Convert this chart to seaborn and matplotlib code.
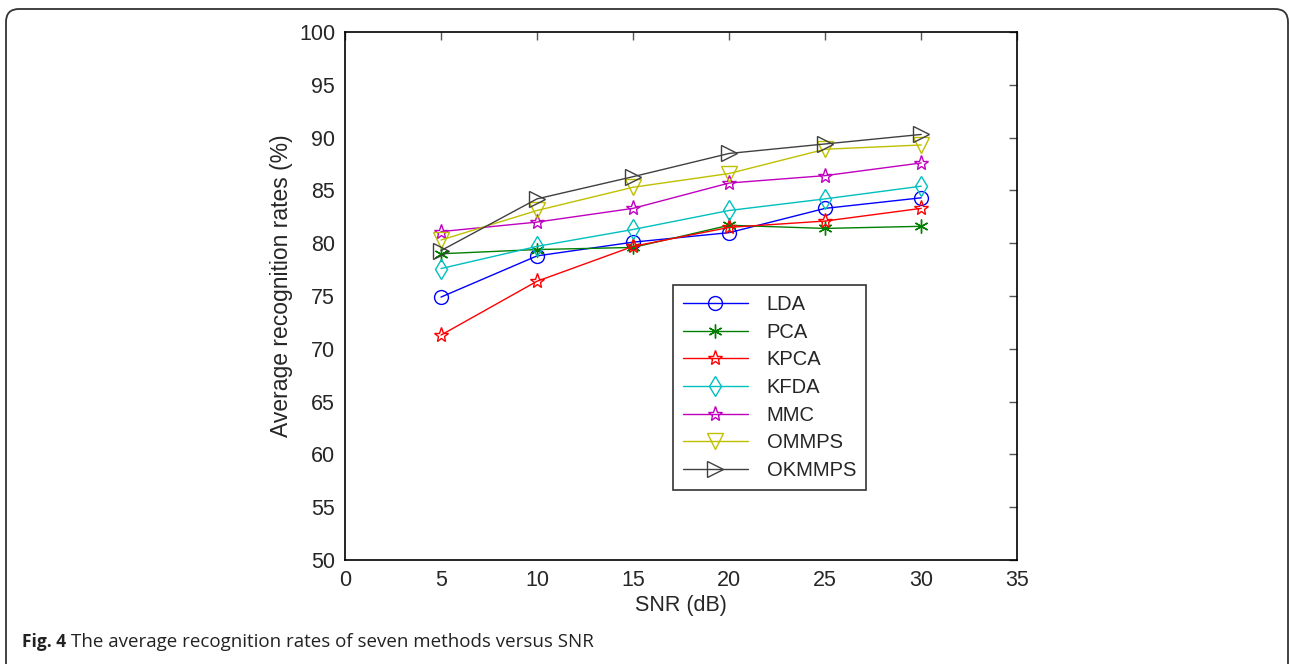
import numpy as np
import pandas as pd
import matplotlib
matplotlib.use("Agg")
import matplotlib.pyplot as plt
import seaborn as sns
from matplotlib.patches import FancyBboxPatch
from matplotlib.transforms import IdentityTransform

snr = [5, 10, 15, 20, 25, 30]
methods = ["LDA", "PCA", "KPCA", "KFDA", "MMC", "OMMPS", "OKMMPS"]
lda = [74.9, 78.8, 80.1, 81.0, 83.3, 84.3]
pca = [79.0, 79.4, 79.6, 81.7, 81.4, 81.6]
kpca = [71.3, 76.4, 79.7, 81.5, 82.1, 83.3]
kfda = [77.6, 79.7, 81.3, 83.1, 84.2, 85.4]
mmc = [81.1, 82.0, 83.3, 85.7, 86.4, 87.6]
ommps = [80.3, 83.1, 85.3, 86.6, 88.9, 89.3]
okmmps = [79.3, 84.2, 86.3, 88.5, 89.4, 90.3]

series = [lda, pca, kpca, kfda, mmc, ommps, okmmps]
df = pd.DataFrame({
    "SNR": snr * len(methods),
    "rate": np.concatenate(series),
    "method": np.repeat(methods, len(snr)),
})

colors = ["#0000ff", "#008000", "#ff0000", "#00bfbf", "#bf00bf", "#bfbf00", "#404040"]
markers = ["o", (6, 2, 0), "*", "d", "*", "v", ">"]
msizes = [10, 10, 11, 10, 11, 12, 12]

sns.set_style("white")
plt.rcParams["font.family"] = ["Liberation Sans", "DejaVu Sans"]

fig = plt.figure(figsize=(12.9, 6.64), dpi=100)
ax = fig.add_axes([0.2674, 0.1566, 0.5212, 0.7952])

for i, m in enumerate(methods):
    sub = df[df["method"] == m]
    sns.lineplot(data=sub, x="SNR", y="rate", ax=ax, color=colors[i], lw=1.0,
                 marker=markers[i], markersize=msizes[i], markerfacecolor="none",
                 markeredgecolor=colors[i], markeredgewidth=1.0, label=m)

ax.set_xlim(0, 35)
ax.set_ylim(50, 100)
ax.set_xticks(range(0, 36, 5))
ax.set_yticks(range(50, 101, 5))
ax.tick_params(direction="in", length=6, width=1, labelsize=15.5, color="#555555",
               top=True, right=True, pad=7)
for s in ax.spines.values():
    s.set_visible(True)
    s.set_color("black")
    s.set_linewidth(1.2)
ax.set_xlabel("SNR (dB)", fontsize=15.5, labelpad=3)
ax.set_ylabel("Average recognition rates (%)", fontsize=16.5)
ax.yaxis.set_label_coords(-0.078, 0.52)

leg = ax.legend(loc="upper left", bbox_to_anchor=(673 / 1290, 1 - 285 / 664),
                bbox_transform=fig.transFigure, fontsize=14.5, borderaxespad=0,
                frameon=True, fancybox=False, edgecolor="black", borderpad=0.5,
                handlelength=3.2, labelspacing=0.43, handletextpad=0.95)
leg.get_frame().set_linewidth(1.2)

box = FancyBboxPatch((6, -12), 1282, 664 - 9 + 12,
                     boxstyle="round,pad=0,rounding_size=13",
                     transform=IdentityTransform(), fill=False, edgecolor="#333333",
                     linewidth=1.3)
fig.patches.append(box)

fig.text(22 / 1290, 1 - 642 / 664, "Fig. 4", fontsize=12.5, fontweight="bold",
         family=["Open Sans", "DejaVu Sans"], color="#222222", va="center")
fig.text(71 / 1290, 1 - 642 / 664, "The average recognition rates of seven methods versus SNR",
         fontsize=13.5, family=["Open Sans", "DejaVu Sans"], color="#222222", va="center")

fig.savefig("out.png", dpi=100)
